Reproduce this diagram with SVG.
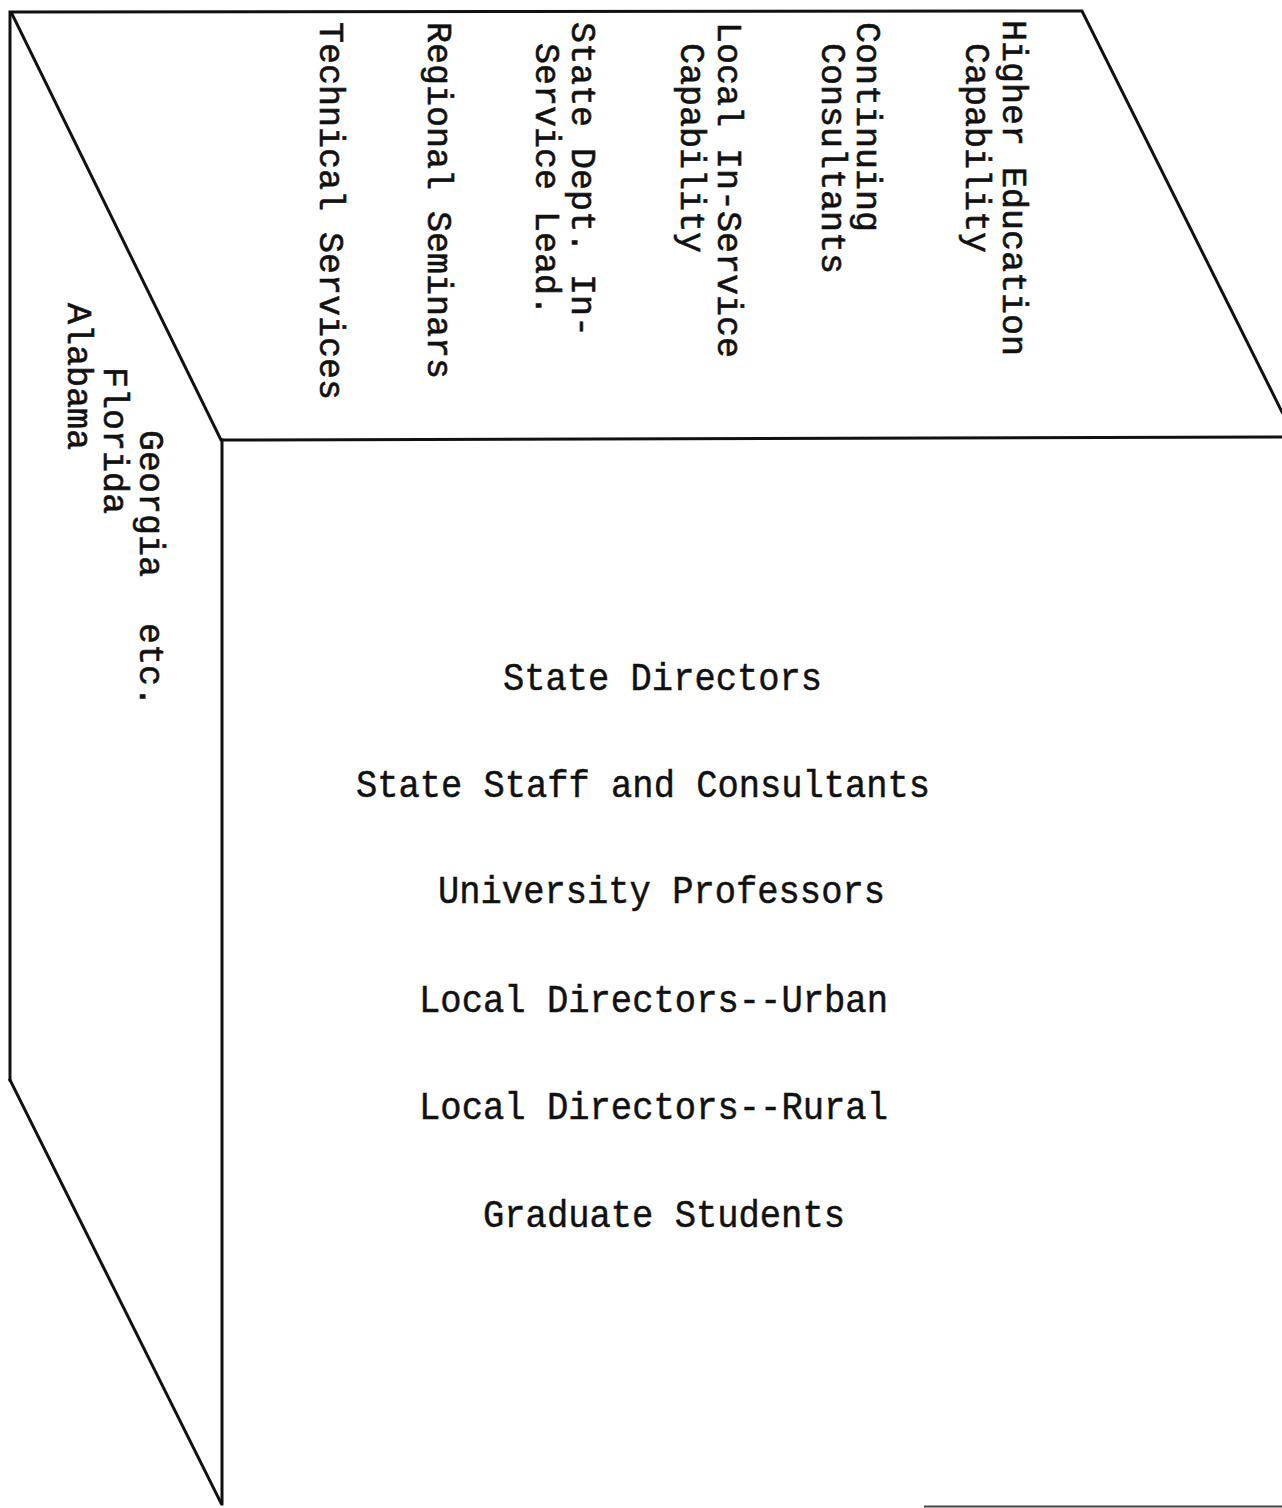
<svg xmlns="http://www.w3.org/2000/svg" width="1282" height="1508" viewBox="0 0 1282 1508">
  <style>
    .edge { fill: none; stroke: #111; stroke-width: 3; stroke-linejoin: miter; stroke-linecap: square; }
    .vt { font-family: "Liberation Mono", "DejaVu Sans Mono", monospace; font-size: 35px; fill: #111; stroke: #111; stroke-width: 0.6px; }
    .ht { font-family: "Liberation Mono", "DejaVu Sans Mono", monospace; font-size: 39px; fill: #111; stroke: #111; stroke-width: 0.5px; }
  </style>
  <rect width="1282" height="1508" fill="#fff"/>

  <!-- cube outline -->
  <g id="cube-edges">
    <path class="edge" d="M10,1080 L10,12 L1082,11 L1282,412"/>
    <path class="edge" d="M12,14 L221,440 L1282,437"/>
    <path class="edge" d="M222,440 L222,1504"/>
    <path class="edge" d="M10,1080 L221,1503"/>
    <path d="M924,1506.5 L1282,1506.5" stroke="#444" stroke-width="2" fill="none"/>
  </g>

  <!-- top face: kinds of in-service activity, read top to bottom -->
  <g id="top-face-labels">
    <text class="vt" transform="translate(320,22) rotate(90)">Technical Services</text>
    <text class="vt" transform="translate(428,22) rotate(90)">Regional Seminars</text>
    <g id="state-dept">
      <text class="vt" transform="translate(572,22) rotate(90)">State Dept. In-</text>
      <text class="vt" transform="translate(536,43) rotate(90)">Service Lead.</text>
    </g>
    <g id="local-inservice">
      <text class="vt" transform="translate(718,22) rotate(90)">Local In-Service</text>
      <text class="vt" transform="translate(681,43) rotate(90)">Capability</text>
    </g>
    <g id="continuing">
      <text class="vt" transform="translate(857,22) rotate(90)">Continuing</text>
      <text class="vt" transform="translate(822,43) rotate(90)">Consultants</text>
    </g>
    <g id="higher-ed">
      <text class="vt" transform="translate(1003,20) rotate(90)">Higher Education</text>
      <text class="vt" transform="translate(966,43) rotate(90)">Capability</text>
    </g>
  </g>

  <!-- side face: states -->
  <g id="side-face-labels">
    <text class="vt" transform="translate(140,430) rotate(90)"><tspan x="0">Georgia</tspan><tspan x="193">etc.</tspan></text>
    <text class="vt" transform="translate(104,367) rotate(90)">Florida</text>
    <text class="vt" transform="translate(68,303) rotate(90)">Alabama</text>
  </g>

  <!-- front face: participant groups -->
  <g id="front-face-labels">
    <text class="ht" x="503" y="690" textLength="319" lengthAdjust="spacingAndGlyphs">State Directors</text>
    <text class="ht" x="356" y="797" textLength="574" lengthAdjust="spacingAndGlyphs">State Staff and Consultants</text>
    <text class="ht" x="438" y="903" textLength="447" lengthAdjust="spacingAndGlyphs">University Professors</text>
    <text class="ht" x="419" y="1012" textLength="469" lengthAdjust="spacingAndGlyphs">Local Directors--Urban</text>
    <text class="ht" x="419" y="1119" textLength="469" lengthAdjust="spacingAndGlyphs">Local Directors--Rural</text>
    <text class="ht" x="483" y="1227" textLength="362" lengthAdjust="spacingAndGlyphs">Graduate Students</text>
  </g>
</svg>
